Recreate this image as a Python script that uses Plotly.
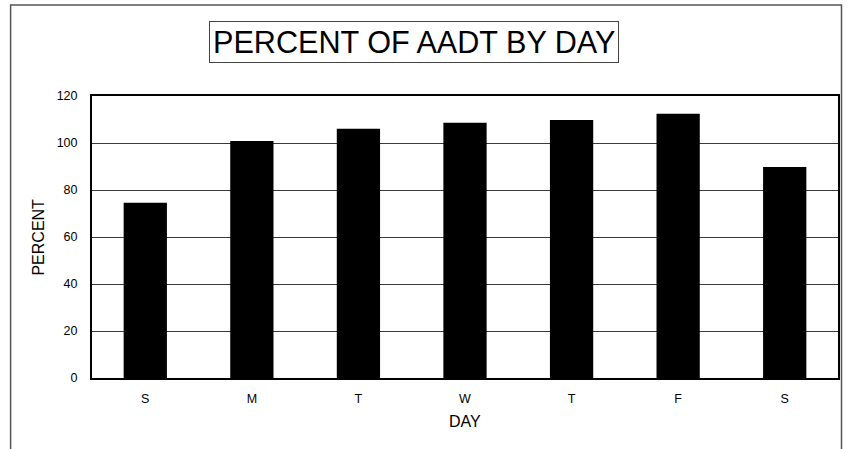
import plotly.graph_objects as go

days = ["S", "M", "T", "W", "T", "F", "S"]
percent = [74.6, 100.8, 106.1, 108.6, 109.8, 112.5, 89.8]
y_ticks = [0, 20, 40, 60, 80, 100, 120]

W, H = 851, 449
L, R, T, B = 91.5, 838.5, 96, 378
pw, ph = R - L, B - T

def px_x(x):
    return (x - L) / pw

def px_y(y):
    return (B - y) / ph

fig = go.Figure()
fig.add_trace(go.Bar(
    x=list(range(len(days))),
    y=percent,
    marker=dict(color="black", line=dict(width=0)),
    width=0.406,
))

fig.update_layout(
    width=W, height=H,
    margin=dict(l=L, r=W - R, t=T, b=H - B, pad=0),
    paper_bgcolor="white",
    plot_bgcolor="white",
    showlegend=False,
    font=dict(family="Liberation Sans, Arial, sans-serif", color="black"),
    xaxis=dict(
        range=[-0.5, 6.5],
        tickvals=list(range(len(days))),
        ticktext=days,
        showgrid=False,
        showline=True, linecolor="black", linewidth=2, mirror=True,
        ticks="", tickfont=dict(size=12.5),
        ticklabelstandoff=8,
        zeroline=False,
    ),
    yaxis=dict(
        range=[0, 120],
        tickvals=y_ticks,
        showgrid=True, gridcolor="#3a3a3a", gridwidth=1,
        showline=True, linecolor="black", linewidth=2, mirror=True,
        ticks="", tickfont=dict(size=12.5),
        ticklabelstandoff=10,
        zeroline=False,
    ),
    shapes=[
        dict(type="rect", xref="paper", yref="paper",
             x0=px_x(10), x1=px_x(842), y0=px_y(470), y1=px_y(5),
             line=dict(color="#555555", width=1.5), fillcolor="rgba(0,0,0,0)",
             layer="below"),
    ],
    annotations=[
        dict(text="PERCENT OF AADT BY DAY", xref="paper", yref="paper",
             x=px_x(413.5), y=px_y(42), xanchor="center", yanchor="middle",
             showarrow=False, font=dict(size=30.6, color="black"),
             bordercolor="#444444", borderwidth=1, borderpad=3,
             bgcolor="white"),
        dict(text="PERCENT", xref="paper", yref="paper",
             x=px_x(37), y=0.5, xanchor="center", yanchor="middle",
             textangle=-90, showarrow=False, font=dict(size=16, color="black")),
        dict(text="DAY", xref="paper", yref="paper",
             x=0.5, y=px_y(421), xanchor="center", yanchor="middle",
             showarrow=False, font=dict(size=16, color="black")),
    ],
)

fig.write_html("out.html", config={"displayModeBar": False},
               post_script="document.body.style.margin='0px';document.body.style.padding='0px';")
